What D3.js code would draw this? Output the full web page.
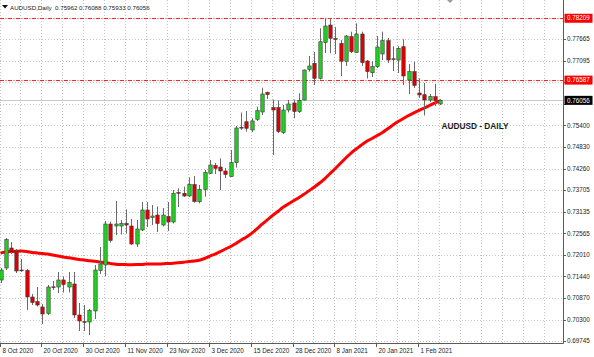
<!DOCTYPE html>
<html><head><meta charset="utf-8">
<script src="https://cdn.jsdelivr.net/npm/d3@7"></script>
<style>body{margin:0;background:#fff}svg{display:block}text{font-family:"Liberation Sans",Arial,sans-serif}</style>
</head><body><svg id="c" width="594" height="357"></svg>
<script>
const dates = ["2020-10-08","2020-10-09","2020-10-12","2020-10-13","2020-10-14","2020-10-15","2020-10-16","2020-10-19","2020-10-20","2020-10-21","2020-10-22","2020-10-23","2020-10-26","2020-10-27","2020-10-28","2020-10-29","2020-10-30",
"2020-11-02","2020-11-03","2020-11-04","2020-11-05","2020-11-06","2020-11-09","2020-11-10","2020-11-11","2020-11-12","2020-11-13","2020-11-16","2020-11-17","2020-11-18","2020-11-19","2020-11-20","2020-11-23","2020-11-24","2020-11-25","2020-11-26","2020-11-27","2020-11-30",
"2020-12-01","2020-12-02","2020-12-03","2020-12-04","2020-12-07","2020-12-08","2020-12-09","2020-12-10","2020-12-11","2020-12-14","2020-12-15","2020-12-16","2020-12-17","2020-12-18","2020-12-21","2020-12-22","2020-12-23","2020-12-24","2020-12-28","2020-12-29","2020-12-30","2020-12-31",
"2021-01-04","2021-01-05","2021-01-06","2021-01-07","2021-01-08","2021-01-11","2021-01-12","2021-01-13","2021-01-14","2021-01-15","2021-01-18","2021-01-19","2021-01-20","2021-01-21","2021-01-22","2021-01-25","2021-01-26","2021-01-27","2021-01-28","2021-01-29",
"2021-02-01","2021-02-02","2021-02-03","2021-02-04","2021-02-05"];

const open  = [0.71345,0.71659,0.72184,0.72105,0.71607,0.71594,0.70899,0.70781,0.70637,0.70466,0.71166,0.71161,0.71345,0.71161,0.71240,0.70427,0.70256,
0.70243,0.70532,0.71594,0.71738,0.72813,0.72761,0.72761,0.72827,0.72761,0.72289,0.72656,0.73181,0.72984,0.73049,0.72787,0.73010,0.72866,0.73640,0.73619,0.73548,0.73849,
0.73398,0.73718,0.74143,0.74348,0.74308,0.74203,0.74054,0.74421,0.75349,0.75496,0.75279,0.75559,0.75751,0.76262,0.75869,0.75869,0.75213,0.75803,0.75987,0.75764,0.76065,0.76865,
0.77028,0.76634,0.77568,0.78032,0.77678,0.77552,0.77083,0.77726,0.77306,0.77796,0.77088,0.76781,0.76939,0.77272,0.77621,0.77146,0.77114,0.77463,0.76590,0.76808,
0.76249,0.76204,0.76065,0.76152,0.75962];
const high  = [0.71659,0.72446,0.72341,0.72158,0.71896,0.71633,0.70978,0.71161,0.70715,0.71214,0.71319,0.71555,0.71437,0.71555,0.71555,0.70742,0.70689,
0.70584,0.71738,0.72210,0.72892,0.72879,0.73417,0.72918,0.73194,0.72945,0.72918,0.73390,0.73390,0.73312,0.73272,0.73233,0.73390,0.73705,0.73750,0.73792,0.74033,0.74072,
0.73836,0.74230,0.74492,0.74413,0.74536,0.74282,0.74754,0.75384,0.75738,0.75777,0.75586,0.75890,0.76388,0.76288,0.76079,0.76052,0.75934,0.76065,0.76079,0.76241,0.76865,0.77219,
0.77324,0.77946,0.78208,0.78182,0.77980,0.77639,0.77770,0.77857,0.78077,0.77857,0.77114,0.77083,0.77744,0.77857,0.77691,0.77474,0.77482,0.77657,0.77010,0.77070,
0.76634,0.76511,0.76223,0.76485,0.76088];
const low   = [0.71266,0.71607,0.72027,0.71528,0.71555,0.70558,0.70689,0.70650,0.70191,0.70427,0.71083,0.71004,0.71017,0.71017,0.70348,0.70007,0.70007,
0.69902,0.70322,0.71502,0.71450,0.72328,0.72525,0.72538,0.72564,0.72263,0.72210,0.72630,0.72735,0.72787,0.72604,0.72748,0.72630,0.72827,0.73259,0.73522,0.73522,0.73377,
0.73356,0.73529,0.74125,0.74125,0.73705,0.74020,0.74046,0.74295,0.75279,0.75234,0.75226,0.75515,0.75672,0.76092,0.74623,0.75200,0.75174,0.75738,0.75586,0.75725,0.76052,0.76808,
0.76459,0.76603,0.77298,0.77290,0.77272,0.76695,0.76957,0.77298,0.77298,0.76957,0.76629,0.76669,0.76905,0.77114,0.77036,0.76826,0.76774,0.76459,0.76223,0.76380,
0.76118,0.75659,0.76013,0.75908,0.75933];
const close = [0.71607,0.72407,0.72092,0.71581,0.71589,0.70899,0.70755,0.70689,0.70453,0.71161,0.71148,0.71345,0.71227,0.71279,0.70427,0.70270,0.70238,
0.70545,0.71607,0.71764,0.72813,0.72381,0.72813,0.72827,0.72787,0.72289,0.72682,0.73181,0.72945,0.73023,0.72827,0.73049,0.72866,0.73613,0.73621,0.73548,0.73855,0.73398,
0.73718,0.74164,0.74361,0.74274,0.74203,0.74112,0.74421,0.75331,0.75339,0.75323,0.75515,0.75785,0.76223,0.76210,0.75803,0.75239,0.75803,0.75961,0.75764,0.76052,0.76852,0.76957,
0.76634,0.77594,0.78006,0.77684,0.77657,0.77083,0.77744,0.77332,0.77796,0.77044,0.76808,0.76939,0.77455,0.77621,0.77114,0.77128,0.77421,0.76695,0.76808,0.76446,
0.76197,0.76065,0.76157,0.76047,0.76056];
const ma = [0.72053,0.72079,0.72092,0.72100,0.72105,0.72092,0.72066,0.72053,0.72040,0.72026,0.72000,0.71974,0.71948,0.71929,0.71908,0.71882,0.71869,
0.71851,0.71835,0.71817,0.71798,0.71777,0.71759,0.71751,0.71748,0.71746,0.71748,0.71754,0.71762,0.71764,0.71764,0.71769,0.71775,0.71783,0.71796,0.71811,0.71830,0.71843,
0.71864,0.71908,0.71969,0.72026,0.72089,0.72158,0.72223,0.72302,0.72394,0.72472,0.72569,0.72687,0.72808,0.72923,0.73036,0.73141,0.73251,0.73338,0.73422,0.73503,0.73592,0.73689,
0.73786,0.73888,0.74006,0.74138,0.74269,0.74405,0.74544,0.74675,0.74780,0.74885,0.74982,0.75056,0.75134,0.75213,0.75310,0.75410,0.75501,0.75580,0.75659,0.75730,
0.75795,0.75855,0.75921,0.75987,0.76039];

const xTickDates = ["2020-10-08","2020-10-20","2020-10-30","2020-11-11","2020-11-23","2020-12-03","2020-12-15","2020-12-28","2021-01-08","2021-01-20","2021-02-01"];
const yTicks = [0.77665,0.77095,0.76525,0.75955,0.75400,0.74830,0.74260,0.73705,0.73135,0.72565,0.72010,0.71440,0.70870,0.70300,0.69745];
const levels = [0.78209, 0.76587];
const lastPrice = 0.76056;
const title = "AUDUSD,Daily  0.75962 0.76088 0.75933 0.76056";
const caption = "AUDUSD - DAILY";

const svg = d3.select("#c");
const W = 594, H = 357, plotR = 563, plotB = 343;
const x = d3.scaleLinear().domain([0, dates.length - 1]).range([0.5, 440]);
const y = d3.scaleLinear().domain([0.69745, 0.77665]).range([341, 39]);
const parse = d3.timeParse("%Y-%m-%d");
const fmt = d3.timeFormat("%-d %b %Y");

// grid
const g = svg.append("g");
g.selectAll("line.vg").data(d3.range(0, 108, 4)).join("line")
  .attr("x1", d => Math.round(x(d)) - 0.5).attr("x2", d => Math.round(x(d)) - 0.5)
  .attr("y1", 0).attr("y2", plotB).attr("stroke", "#c4c4c4").attr("stroke-dasharray", "1,2");
g.selectAll("line.hg").data(yTicks).join("line")
  .attr("x1", 0).attr("x2", plotR).attr("y1", d => Math.round(y(d)) + 0.5).attr("y2", d => Math.round(y(d)) + 0.5)
  .attr("stroke", "#c4c4c4").attr("stroke-dasharray", "1,2");

// bid line
svg.append("line").attr("x1", 0).attr("x2", plotR).attr("y1", Math.round(y(lastPrice)) + 0.5).attr("y2", Math.round(y(lastPrice)) + 0.5)
  .attr("stroke", "#c8c8c8").attr("stroke-width", 1);
// level lines
svg.selectAll("line.lv").data(levels).join("line")
  .attr("x1", 0).attr("x2", plotR).attr("y1", d => Math.round(y(d)) + 0.5).attr("y2", d => Math.round(y(d)) + 0.5)
  .attr("stroke", "#ff2020").attr("stroke-dasharray", "4,1.5,1,1.5");

// moving average
svg.append("path").datum(ma)
  .attr("d", d3.line().x((d, i) => x(i)).y(d => y(d)).curve(d3.curveMonotoneX))
  .attr("fill", "none").attr("stroke", "#ff0000").attr("stroke-width", 3).attr("stroke-linejoin", "round");

// candles
const idx = d3.range(dates.length);
const cg = svg.append("g");
cg.selectAll("line.w").data(idx).join("line")
  .attr("x1", i => Math.round(x(i)) + 0.5).attr("x2", i => Math.round(x(i)) + 0.5)
  .attr("y1", i => y(high[i])).attr("y2", i => y(low[i]))
  .attr("stroke", "#6a6a6a").attr("stroke-width", 1);
cg.selectAll("rect.b").data(idx).join("rect")
  .attr("x", i => Math.round(x(i)) - 1.2)
  .attr("width", 3.4)
  .attr("y", i => y(Math.max(open[i], close[i])))
  .attr("height", i => Math.max(0.8, Math.abs(y(open[i]) - y(close[i]))))
  .attr("fill", i => close[i] >= open[i] ? "#22d022" : "#e00000")
  .attr("stroke", "#3a3a3a").attr("stroke-width", 0.6);

// axes frame
svg.append("line").attr("x1", plotR + 0.5).attr("x2", plotR + 0.5).attr("y1", 0).attr("y2", plotB + 0.5).attr("stroke", "#5a5a5a");
svg.append("line").attr("x1", 0).attr("x2", plotR + 0.5).attr("y1", plotB + 0.5).attr("y2", plotB + 0.5).attr("stroke", "#5a5a5a");

// y ticks + labels
const hidden = t => levels.concat([lastPrice]).some(l => Math.abs(y(l) - y(t)) < 7);
const yl = svg.append("g");
yl.selectAll("line").data(yTicks).join("line")
  .attr("x1", plotR).attr("x2", plotR + 3).attr("y1", d => Math.round(y(d)) + 0.5).attr("y2", d => Math.round(y(d)) + 0.5).attr("stroke", "#5a5a5a");
yl.selectAll("text").data(yTicks.filter(t => !hidden(t))).join("text")
  .attr("x", 567).attr("y", d => y(d) + 2.2).attr("font-size", 6.3).attr("fill", "#222")
  .text(d => d.toFixed(5));

// price boxes
const boxes = levels.map(v => ({v, fill: "#ff0000"})).concat([{v: lastPrice, fill: "#000"}]);
const bx = svg.append("g");
bx.selectAll("rect").data(boxes).join("rect")
  .attr("x", 564.5).attr("y", d => y(d.v) - 4.5).attr("width", 28).attr("height", 9).attr("fill", d => d.fill);
bx.selectAll("text").data(boxes).join("text")
  .attr("x", 567).attr("y", d => y(d.v) + 2.2).attr("font-size", 6.3).attr("fill", "#fff").text(d => d.v.toFixed(5));

// x ticks + labels
const xl = svg.append("g");
xl.selectAll("line").data(xTickDates).join("line")
  .attr("x1", d => Math.round(x(dates.indexOf(d))) - 0.5).attr("x2", d => Math.round(x(dates.indexOf(d))) - 0.5)
  .attr("y1", plotB).attr("y2", plotB + 4).attr("stroke", "#5a5a5a");
xl.selectAll("text").data(xTickDates).join("text")
  .attr("x", d => Math.round(x(dates.indexOf(d))) + 1.5).attr("y", 353).attr("font-size", 6.3).attr("fill", "#222")
  .text(d => fmt(parse(d)));

// title
svg.append("path").attr("d", "M2,5 L8,5 L5,8.5 Z").attr("fill", "#111");
svg.append("text").attr("x", 10).attr("y", 9.5).attr("font-size", 6.2).attr("fill", "#222").attr("xml:space", "preserve").text(title);
// chart shift marker
svg.append("path").attr("d", "M447,0 L453,0 L450,3 Z").attr("fill", "#9a9a9a");
// caption
svg.append("text").attr("x", 441.5).attr("y", 128.7).attr("font-size", 8.3).attr("font-weight", "bold").attr("fill", "#1a1a1a").text(caption);
</script></body></html>
